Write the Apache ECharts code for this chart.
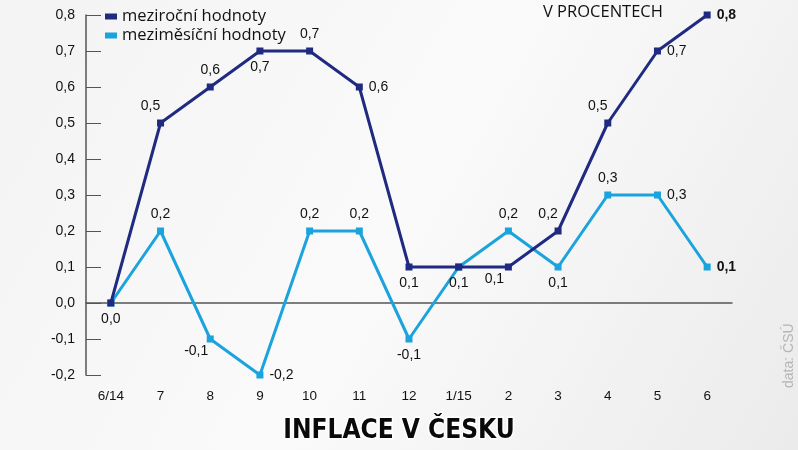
<!DOCTYPE html>
<html>
<head>
    <meta charset="utf-8"/>
    <title>Inflace v Česku</title>
    <script src="https://cdn.jsdelivr.net/npm/echarts@6/dist/echarts.min.js"></script>
    <style>
        html, body { margin: 0; padding: 0; }
        #main { width: 798px; height: 450px; }
    </style>
</head>
<body>
<div id="main"></div>
<script type="text/javascript">
    // data
    var months = ['6/14', '7', '8', '9', '10', '11', '12', '1/15', '2', '3', '4', '5', '6'];
    var mezirocni = [0.0, 0.5, 0.6, 0.7, 0.7, 0.6, 0.1, 0.1, 0.1, 0.2, 0.5, 0.7, 0.8];
    var mezimesicni = [0.0, 0.2, -0.1, -0.2, 0.2, 0.2, -0.1, 0.1, 0.2, 0.1, 0.3, 0.3, 0.1];

    // where each point's label sits (null = no label)
    var posRocni = ['bottom', 'tl', 'top', 'bottom', 'top', 'right', 'bottom', 'bottom', 'bl', 'tl', 'tl', 'right', 'right'];
    var posMesicni = [null, 'top', 'bl', 'right', 'top', 'top', 'bottom', null, 'top', 'bottom', 'top', 'right', 'right'];

    var navy = '#1f2a80';
    var sky = '#1aa3dd';

    function fmt(v) {
        return v.toFixed(1).replace('.', ',');
    }

    function buildData(values, positions) {
        return values.map(function (v, i) {
            var p = positions[i];
            var last = i === values.length - 1;
            var label = {show: p !== null, fontWeight: last ? 'bold' : 'normal'};
            if (p === 'tl') {
                label.position = 'top';
                label.offset = [-10, 0];
            } else if (p === 'bl') {
                label.position = 'bottom';
                label.offset = [-14, -4];
            } else if (p) {
                label.position = p;
            }
            return {value: v, label: label};
        });
    }

    var myChart = echarts.init(document.getElementById('main'));

    var pointLabel = {
        fontFamily: 'Liberation Sans', fontSize: 14, color: '#111', distance: 6,
        formatter: function (p) { return fmt(p.value); }
    };

    myChart.setOption({
        backgroundColor: {
            type: 'linear', x: 0, y: 0, x2: 1, y2: 1,
            colorStops: [
                {offset: 0, color: '#f3f3f3'},
                {offset: 0.5, color: '#fafafa'},
                {offset: 1, color: '#ebebeb'}
            ]
        },
        animation: false,
        grid: {left: 86, right: 66, top: 15, bottom: 75},
        legend: {
            orient: 'vertical',
            left: 100,
            top: 3,
            itemWidth: 12,
            itemHeight: 6,
            itemGap: 2,
            icon: 'rect',
            textStyle: {fontFamily: 'Open Sans', fontSize: 16.5, color: '#111'},
            data: ['meziroční hodnoty', 'meziměsíční hodnoty']
        },
        xAxis: [
            {
                type: 'category',
                data: months,
                axisLine: {onZero: true, lineStyle: {color: '#555', width: 1.5}},
                axisTick: {inside: true, length: 9, lineStyle: {color: '#555', width: 1.5}},
                axisLabel: {show: false}
            },
            {
                type: 'category',
                data: months,
                position: 'bottom',
                axisLine: {show: false},
                axisTick: {show: false},
                axisLabel: {fontFamily: 'Liberation Sans', fontSize: 13.5, color: '#111', margin: 14}
            }
        ],
        yAxis: {
            type: 'value',
            min: -0.2,
            max: 0.8,
            interval: 0.1,
            splitLine: {show: false},
            axisLine: {show: true, lineStyle: {color: '#555', width: 1.5}},
            axisTick: {show: true, inside: true, length: 15, lineStyle: {color: '#555', width: 1}},
            axisLabel: {
                fontFamily: 'Liberation Sans', fontSize: 14, color: '#111', margin: 11,
                formatter: function (v) { return fmt(v); }
            }
        },
        graphic: [
            {
                type: 'text', left: 543, top: 4,
                style: {text: 'V PROCENTECH', font: '16.5px "Open Sans"', fill: '#111'}
            },
            {
                type: 'text', left: 'center', top: 417,
                style: {
                    text: 'INFLACE V ČESKU',
                    font: 'bold 26px "DejaVu Sans Condensed", sans-serif',
                    fill: '#0a0a0a', stroke: '#fff', lineWidth: 3
                }
            },
            {
                type: 'text', x: 782, y: 388, rotation: Math.PI / 2,
                style: {text: 'data: ČSÚ', font: '14px "Liberation Sans"', fill: '#b5b5b5'}
            }
        ],
        series: [
            {
                name: 'meziměsíční hodnoty',
                type: 'line',
                data: buildData(mezimesicni, posMesicni),
                symbol: 'rect',
                symbolSize: 7,
                itemStyle: {color: sky},
                lineStyle: {color: sky, width: 3},
                label: pointLabel,
                z: 2
            },
            {
                name: 'meziroční hodnoty',
                type: 'line',
                data: buildData(mezirocni, posRocni),
                symbol: 'rect',
                symbolSize: 7,
                itemStyle: {color: navy},
                lineStyle: {color: navy, width: 3},
                label: pointLabel,
                z: 3
            }
        ]
    });
</script>
</body>
</html>
